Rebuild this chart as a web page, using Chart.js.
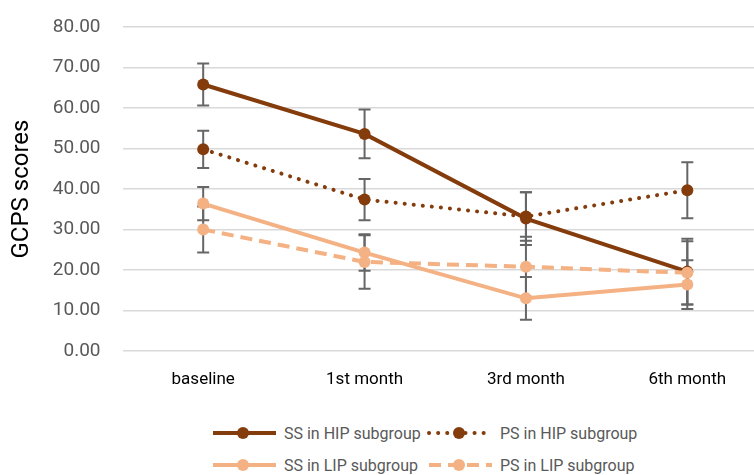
<!DOCTYPE html>
<html>
<head>
<meta charset="utf-8">
<script src="https://cdn.jsdelivr.net/npm/chart.js@4.4.1/dist/chart.umd.min.js"></script>
<style>
    html, body { margin: 0; padding: 0; background: #fff; overflow: hidden; }
    #wrap { position: relative; width: 774px; height: 475px; }
    #grafico { position: absolute; left: 0; top: 0; }
    .leyenda { position: absolute; font-family: Roboto, sans-serif; font-size: 16px; color: #595959; }
    .item { position: absolute; display: flex; align-items: center; white-space: nowrap; }
    .item svg { margin-right: 6px; }
</style>
</head>
<body>
<div id="wrap">
    <canvas id="grafico" width="774" height="408" style="width:774px;height:408px"></canvas>
    <div class="leyenda" id="leyenda"></div>
</div>
<script>
// ─── Datos ─────────────────────────────────────────────
const categorias = ['baseline', '1st month', '3rd month', '6th month'];
const etiquetas  = ['SS in HIP subgroup', 'PS in HIP subgroup', 'SS in LIP subgroup', 'PS in LIP subgroup'];

const ssHip    = [65.8, 53.6, 32.7, 19.6];
const ssHipErr = [5.2, 6.0, 6.5, 8.1];
const psHip    = [49.8, 37.4, 33.2, 39.7];
const psHipErr = [4.6, 5.1, 6.0, 6.9];
const ssLip    = [36.4, 24.3, 13.0, 16.4];
const ssLipErr = [4.1, 4.5, 5.3, 6.0];
const psLip    = [30.0, 22.0, 20.8, 19.3];
const psLipErr = [5.7, 6.6, 7.4, 7.8];

const yMin = 0, yMax = 80, yPaso = 10;

// ─── Estilos ───────────────────────────────────────────
const OSCURO = '#843C0C';
const CLARO  = '#F4B183';
const GRIS_ERR = '#666666';

// Barras de error dibujadas con las escalas del gráfico
const barrasError = {
    id: 'barrasError',
    beforeDatasetsDraw(chart) {
        const ctx = chart.ctx;
        const x = chart.scales.x, y = chart.scales.y;
        ctx.save();
        ctx.strokeStyle = GRIS_ERR;
        ctx.lineWidth = 2;
        chart.data.datasets.forEach(ds => {
            ds.errores.forEach((e, i) => {
                const px = x.getPixelForValue(i);
                const t = y.getPixelForValue(ds.data[i] + e);
                const b = y.getPixelForValue(ds.data[i] - e);
                ctx.beginPath();
                ctx.moveTo(px, t); ctx.lineTo(px, b);
                ctx.moveTo(px - 6, t); ctx.lineTo(px + 6, t);
                ctx.moveTo(px - 6, b); ctx.lineTo(px + 6, b);
                ctx.stroke();
            });
        });
        ctx.restore();
    }
};

function serie(label, data, errores, color, dash) {
    return {
        label, data, errores,
        borderColor: color,
        backgroundColor: color,
        borderWidth: 4,
        borderDash: dash,
        borderCapStyle: dash.length && dash[0] < 1 ? 'round' : 'butt',
        pointRadius: 6,
        pointHoverRadius: 6,
        pointBorderWidth: 0,
        pointBackgroundColor: color,
        tension: 0,
        fill: false
    };
}

const datasets = [
    serie(etiquetas[2], ssLip, ssLipErr, CLARO, []),
    serie(etiquetas[3], psLip, psLipErr, CLARO, [12, 7]),
    serie(etiquetas[0], ssHip, ssHipErr, OSCURO, []),
    serie(etiquetas[1], psHip, psHipErr, OSCURO, [0.1, 9])
];

new Chart(document.getElementById('grafico'), {
    type: 'line',
    data: { labels: categorias, datasets },
    options: {
        responsive: false,
        animation: false,
        layout: { padding: { top: 27, right: 0, bottom: 0, left: 0 } },
        plugins: { legend: { display: false }, tooltip: { enabled: false } },
        scales: {
            x: {
                offset: true,
                afterFit(s) { s.height = 57; s.paddingLeft = 0; s.paddingRight = 0; },
                grid: { display: false },
                border: { display: false },
                ticks: { color: '#000', font: { family: 'Roboto', size: 17 }, padding: 11 }
            },
            y: {
                min: yMin, max: yMax,
                afterFit(s) { s.width = 122.5; s.paddingTop = 0; s.paddingBottom = 0; },
                grid: { color: '#d9d9d9', lineWidth: 1.5, drawTicks: false },
                border: { display: false },
                ticks: {
                    stepSize: yPaso,
                    padding: 22,
                    color: '#595959',
                    font: { family: 'Roboto', size: 19 },
                    callback: v => v.toFixed(2)
                },
                title: {
                    display: true,
                    text: 'GCPS scores',
                    color: '#000',
                    font: { family: 'Roboto', size: 24 },
                    padding: { top: 8, bottom: 0 }
                }
            }
        }
    },
    plugins: [barrasError]
});

// ─── Leyenda HTML ──────────────────────────────────────
const leyenda = document.getElementById('leyenda');
const posiciones = [[211, 433], [427, 433], [211, 465], [427, 465]];
const estilos = [
    { color: OSCURO, dash: '', cap: 'butt' },
    { color: OSCURO, dash: '0.1 9', cap: 'round' },
    { color: CLARO, dash: '', cap: 'butt' },
    { color: CLARO, dash: '12 7', cap: 'butt' }
];
etiquetas.forEach((txt, i) => {
    const est = estilos[i];
    const el = document.createElement('div');
    el.className = 'item';
    el.style.left = posiciones[i][0] + 'px';
    el.style.top = (posiciones[i][1] - 12) + 'px';
    el.style.height = '24px';
    el.innerHTML =
        '<svg width="67" height="14" viewBox="0 0 67 14">' +
        '<line x1="2" y1="7" x2="65" y2="7" stroke="' + est.color + '" stroke-width="4" stroke-linecap="' + est.cap + '"' +
        (est.dash ? ' stroke-dasharray="' + est.dash + '"' : '') + '/>' +
        '<circle cx="32" cy="7" r="6" fill="' + est.color + '"/></svg>' +
        '<span>' + txt + '</span>';
    leyenda.appendChild(el);
});
</script>
</body>
</html>
